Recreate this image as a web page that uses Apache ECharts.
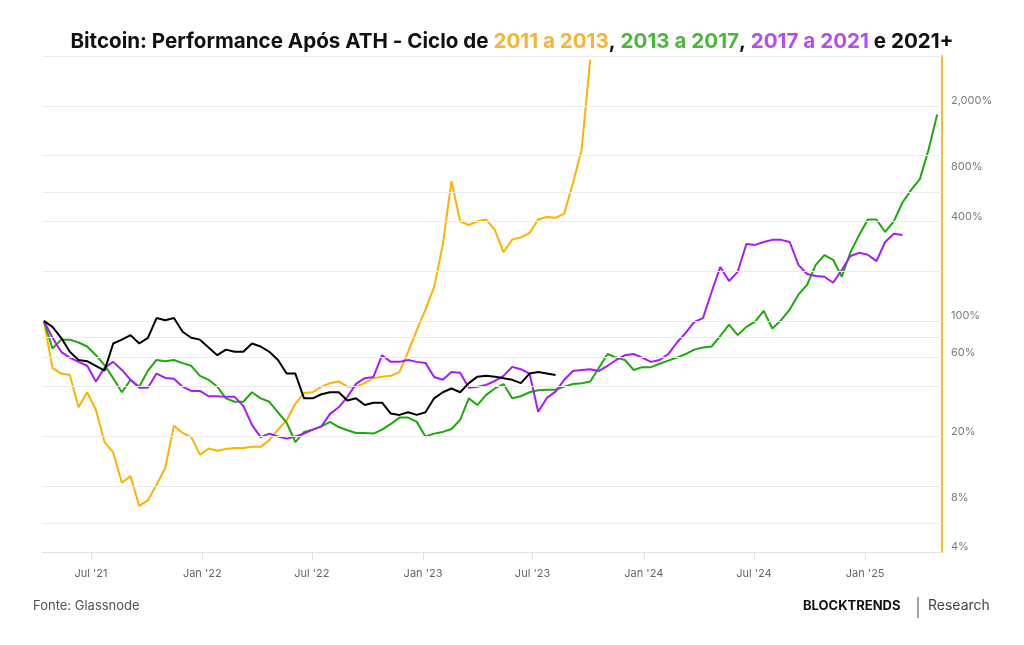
<!DOCTYPE html>
<html>
<head>
<meta charset="utf-8">
<script src="https://cdn.jsdelivr.net/npm/echarts@6/dist/echarts.min.js"></script>
<style>
  html, body { margin: 0; padding: 0; background: #fff; }
  #chart { width: 1024px; height: 645px; }
</style>
</head>
<body>
<div id="chart"></div>
<script>
// dias desde o ATH de abril/2021, um ponto a cada ~14 dias
const ath2021 = Date.UTC(2021, 3, 14);
const stepDays = 14.34;

// desempenho relativo ao ATH (%)
const ciclo2011 = [100, 52, 48, 47, 30, 37, 29, 18.5, 16, 10.5, 11.5, 7.6, 8.2, 10.2, 12.9, 23.2, 21, 19.8, 15.5, 16.9,
  16.4, 16.8, 17, 17, 17.3, 17.3, 19, 22, 25, 31.5, 36.6, 37, 40, 42, 43, 40, 40, 42, 45, 46,
  46.5, 49, 65, 88, 117, 160, 288, 700, 400, 380, 400, 410, 355, 260, 310, 320, 340, 410, 425, 420,
  445, 680, 1080, 3800];

const ciclo2013 = [100, 68, 77, 77, 74, 70, 62, 54, 45, 37, 44, 40, 50, 58, 57, 58, 55.5, 53.5, 46.5, 44,
  40, 34, 32.4, 32.4, 37, 34, 32.4, 28, 24.2, 18.5, 21.3, 22, 23, 24.5, 22.8, 21.8, 21, 21, 20.8, 22,
  23.8, 26, 26, 24.5, 20, 20.8, 21.3, 22.2, 25.2, 34, 31, 35.7, 39, 41.5, 34, 35, 37, 38, 38.3, 38.3,
  40, 41.5, 42, 43, 52, 63, 60, 58, 50.5, 52.5, 52.5, 55, 57.5, 60, 63, 67, 69, 70, 81, 95,
  82, 92, 99, 115, 90, 101, 117, 144, 165, 218, 250, 234, 185, 260, 330, 410, 410, 345, 400, 520,
  620, 720, 1080, 1770];

const ciclo2017 = [100, 79, 65, 60, 56.5, 53.5, 43, 52, 56.5, 50.5, 44, 39.4, 39.4, 48, 45.2, 44.6, 40, 37.7, 37.7, 35,
  35, 34.7, 34.7, 30.6, 23.5, 19.8, 20.8, 20, 19.4, 20, 20.8, 22, 23, 27.4, 30, 34.7, 41.6, 45, 45.8, 62,
  56.5, 56.5, 58, 56.5, 55.7, 45.8, 44, 49, 48.5, 39.4, 40, 41, 43.3, 46.5, 52.7, 51, 48, 28.2, 34.2, 37.3,
  44, 49.8, 50.5, 51, 49.8, 53.5, 58, 62, 63, 60, 56.5, 58, 63, 74, 84.6, 98.6, 104, 150, 212, 174,
  198, 292, 288, 300, 309, 309, 300, 218, 192, 187, 185, 170, 203, 247, 258, 251, 230, 300, 336, 331];

const ciclo2021 = [100, 92, 79, 65, 58, 57, 53.5, 50, 73, 77, 82, 73, 79, 104, 101, 104, 86, 79, 77, 69,
  62, 67, 65, 65, 73, 70, 65, 58, 48, 48, 34, 34, 36, 37, 37, 33, 34, 31, 32, 32,
  27.5, 27, 28, 27, 28, 34, 37, 39, 37, 42, 46, 46.5, 46, 45, 44, 42, 48, 49, 48, 47];

// eixo y (log): linhas de grade e rotulos
const gridValues = [4000, 2000, 1000, 600, 400, 200, 100, 80, 60, 40, 20, 10, 6];
const tickValues = [2000, 800, 400, 100, 60, 20, 8, 4];
const tickLabels = ['2,000%', '800%', '400%', '100%', '60%', '20%', '8%', '4%'];

// eixo x
const xTicks = [Date.UTC(2021, 6, 1), Date.UTC(2022, 0, 1), Date.UTC(2022, 6, 1), Date.UTC(2023, 0, 1),
  Date.UTC(2023, 6, 1), Date.UTC(2024, 0, 1), Date.UTC(2024, 6, 1), Date.UTC(2025, 0, 1)];
const meses = ['Jan', 'Feb', 'Mar', 'Apr', 'May', 'Jun', 'Jul', 'Aug', 'Sep', 'Oct', 'Nov', 'Dec'];

const cores = { laranja: '#ffb100', verde: '#1ea80e', roxo: '#a51cf7', preto: '#000000' };

function toSeries(values) {
  return values.map((v, i) => [ath2021 + i * stepDays * 86400000, v]);
}

const chart = echarts.init(document.getElementById('chart'));

const option = {
  animation: false,
  title: {
    left: 'center',
    top: 26,
    text: '{b|Bitcoin: Performance Após ATH - Ciclo de }{o|2011 a 2013}{b|, }{g|2013 a 2017}{b|, }{p|2017 a 2021}{b| e 2021+}',
    textStyle: {
      rich: {
        b: { fontFamily: 'Inter', fontWeight: 'bold', fontSize: 20.6, color: '#111' },
        o: { fontFamily: 'Inter', fontWeight: 'bold', fontSize: 20.6, color: '#f9b234' },
        g: { fontFamily: 'Inter', fontWeight: 'bold', fontSize: 20.6, color: '#4bb83c' },
        p: { fontFamily: 'Inter', fontWeight: 'bold', fontSize: 20.6, color: '#b84cf2' }
      }
    }
  },
  grid: { left: 42, right: 82, top: 56, bottom: 93 },
  xAxis: {
    type: 'value',
    min: Date.UTC(2021, 3, 11),
    max: Date.UTC(2025, 4, 8),
    axisLine: { lineStyle: { color: '#e3e3e3' } },
    axisTick: { show: true, length: 8, lineStyle: { color: '#e3e3e3' }, customValues: xTicks },
    axisLabel: {
      customValues: xTicks,
      color: '#666',
      fontFamily: 'Inter',
      fontSize: 11,
      margin: 16,
      formatter: function (val) {
        const d = new Date(val);
        return meses[d.getUTCMonth()] + " '" + String(d.getUTCFullYear()).slice(2);
      }
    },
    splitLine: { show: false }
  },
  yAxis: {
    type: 'log',
    logBase: 10,
    min: 4,
    max: 4000,
    position: 'right',
    axisLine: { show: true, lineStyle: { color: '#f9b931', width: 2 } },
    axisTick: { show: false },
    axisLabel: { show: false },
    splitLine: { show: false }
  },
  series: [
    {
      // so para grade e rotulos do eixo y
      type: 'line',
      data: [],
      z: 1,
      markLine: {
        silent: true,
        symbol: ['none', 'none'],
        animation: false,
        lineStyle: { color: '#ececec', width: 1, type: 'solid' },
        label: { show: false },
        data: gridValues.map(v => ({ yAxis: v }))
      }
    },
    {
      type: 'line',
      data: [],
      z: 1,
      markLine: {
        silent: true,
        symbol: ['none', 'none'],
        animation: false,
        lineStyle: { color: 'rgba(255,255,255,0)', width: 0 },
        label: {
          show: true,
          position: 'end',
          distance: 9,
          offset: [0, -5],
          color: '#7a7a7a',
          fontFamily: 'Inter',
          fontSize: 11
        },
        data: tickValues.map((v, i) => ({ yAxis: v, label: { formatter: tickLabels[i] } }))
      }
    },
    {
      name: '2011 a 2013',
      type: 'line',
      z: 2,
      showSymbol: false,
      lineStyle: { width: 2, color: cores.laranja },
      itemStyle: { color: cores.laranja },
      data: toSeries(ciclo2011)
    },
    {
      name: '2013 a 2017',
      type: 'line',
      z: 3,
      showSymbol: false,
      lineStyle: { width: 2, color: cores.verde },
      itemStyle: { color: cores.verde },
      data: toSeries(ciclo2013)
    },
    {
      name: '2017 a 2021',
      type: 'line',
      z: 4,
      showSymbol: false,
      lineStyle: { width: 2, color: cores.roxo },
      itemStyle: { color: cores.roxo },
      data: toSeries(ciclo2017)
    },
    {
      name: '2021+',
      type: 'line',
      z: 5,
      showSymbol: false,
      lineStyle: { width: 2, color: cores.preto },
      itemStyle: { color: cores.preto },
      data: toSeries(ciclo2021)
    }
  ],
  graphic: [
    {
      type: 'text', left: 33, top: 600,
      style: { text: 'Fonte: Glassnode', fill: '#555', font: '13px Inter' }
    },
    {
      type: 'text', left: 803, top: 600,
      style: { text: 'BLOCKTRENDS', fill: '#111', font: 'bold 13px Inter' }
    },
    {
      type: 'line',
      shape: { x1: 918, y1: 597, x2: 918, y2: 618 },
      style: { stroke: '#444', lineWidth: 1 }
    },
    {
      type: 'text', left: 928, top: 599,
      style: { text: 'Research', fill: '#444', font: '14px Inter' }
    }
  ]
};

chart.setOption(option);
</script>
</body>
</html>
